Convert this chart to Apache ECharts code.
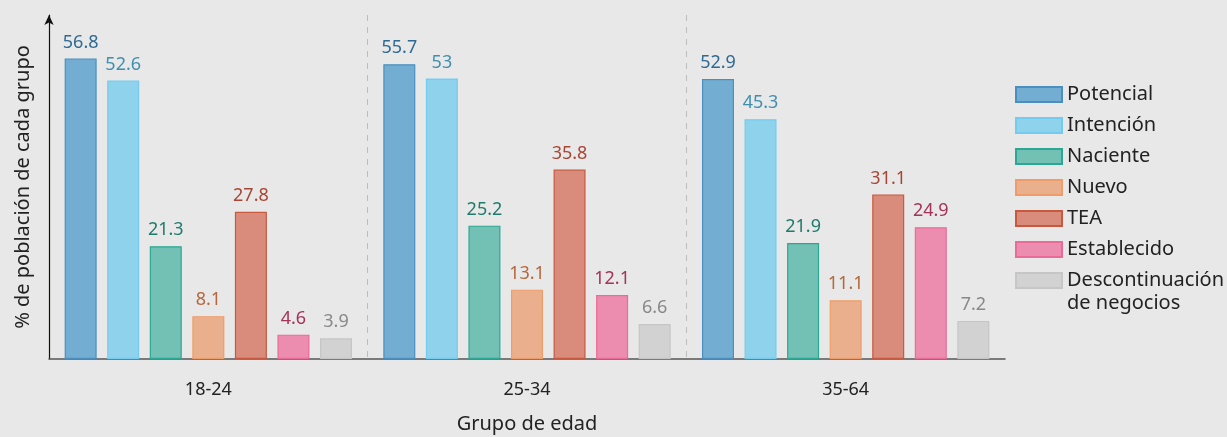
<!DOCTYPE html>
<html>
<head>
<meta charset="utf-8">
<script src="https://cdn.jsdelivr.net/npm/echarts@6/dist/echarts.min.js"></script>
<style>
  html, body { margin: 0; padding: 0; background: #e8e8e8; }
  #chart { width: 1227px; height: 437px; }
</style>
</head>
<body>
<div id="chart"></div>
<script>
const categories = ['18-24', '25-34', '35-64'];
const seriesNames = ['Potencial', 'Intención', 'Naciente', 'Nuevo', 'TEA', 'Establecido', 'Descontinuación de negocios'];
const potencial = [56.8, 55.7, 52.9];
const intencion = [52.6, 53, 45.3];
const naciente = [21.3, 25.2, 21.9];
const nuevo = [8.1, 13.1, 11.1];
const tea = [27.8, 35.8, 31.1];
const establecido = [4.6, 12.1, 24.9];
const descontinuacion = [3.9, 6.6, 7.2];

const values = [potencial, intencion, naciente, nuevo, tea, establecido, descontinuacion];
// fill, border, label
const styles = [
  ['#73aed2', '#4a8fc0', '#2e6a93'],
  ['#8fd2ec', '#72ccef', '#3f8fb0'],
  ['#73c1b5', '#2aa893', '#1f7b6b'],
  ['#eab08d', '#f09c68', '#b5683d'],
  ['#d98c7b', '#c8593f', '#a84534'],
  ['#ec8cae', '#ea6a98', '#a2345a'],
  ['#d2d2d2', '#c6c6c6', '#888888']
];

const font = 'Noto Sans';

const series = values.map((data, i) => ({
  name: seriesNames[i],
  type: 'bar',
  data: data,
  barWidth: 32,
  barGap: '33%',
  itemStyle: {
    color: styles[i][0],
    borderColor: styles[i][1],
    borderWidth: 1.2
  },
  label: {
    show: true,
    position: 'top',
    distance: 7,
    color: styles[i][2],
    fontFamily: font,
    fontSize: 18
  }
}));

const legendBase = {
  orient: 'vertical',
  left: 1015,
  padding: 0,
  icon: 'rect',
  itemWidth: 46,
  itemHeight: 15,
  itemGap: 8,
  textStyle: { fontFamily: font, fontSize: 20, color: '#222', lineHeight: 23 }
};

const chart = echarts.init(document.getElementById('chart'));
chart.setOption({
  backgroundColor: '#e8e8e8',
  animation: false,
  grid: { left: 49, right: 222, top: 15, bottom: 78, outerBoundsMode: 'none', containLabel: false },
  legend: [
    Object.assign({}, legendBase, { top: 83, data: seriesNames.slice(0, 6) }),
    // empty first line keeps the icon level with "Descontinuación"
    Object.assign({}, legendBase, {
      top: 246,
      data: seriesNames.slice(6),
      formatter: () => ' \nDescontinuación\nde negocios'
    })
  ],
  xAxis: {
    type: 'category',
    data: categories,
    name: 'Grupo de edad',
    nameLocation: 'middle',
    nameGap: 55,
    nameTextStyle: { fontFamily: font, fontSize: 20, color: '#222' },
    axisLine: { lineStyle: { color: '#555', width: 1.5 } },
    axisTick: { show: false },
    axisLabel: { fontFamily: font, fontSize: 18, color: '#222', margin: 22 },
    splitLine: {
      show: true,
      showMinLine: false,
      showMaxLine: false,
      lineStyle: { type: [6, 6], color: '#bdbdbd', width: 1 }
    }
  },
  yAxis: {
    type: 'value',
    min: 0,
    max: 65,
    name: '% de población de cada grupo',
    nameLocation: 'middle',
    nameGap: 16,
    nameTextStyle: { fontFamily: font, fontSize: 20, color: '#222' },
    axisLine: { show: true, symbol: ['none', 'arrow'], symbolSize: [7, 10], lineStyle: { color: '#111', width: 1.2 } },
    axisTick: { show: false },
    axisLabel: { show: false },
    splitLine: { show: false }
  },
  series: series
});
</script>
</body>
</html>
